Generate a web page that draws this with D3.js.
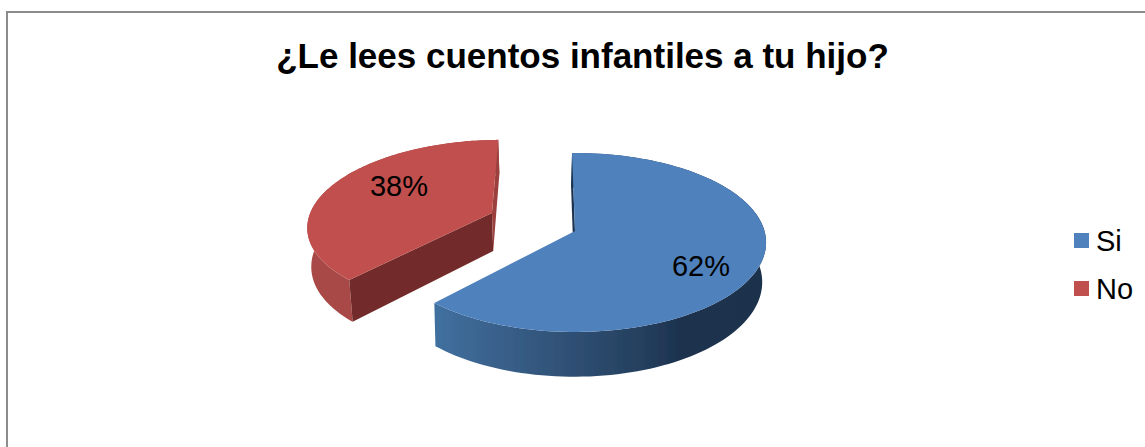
<!DOCTYPE html>
<html>
<head>
<meta charset="utf-8">
<script src="https://cdn.jsdelivr.net/npm/d3@7"></script>
<style>
  body { margin: 0; background: #fff; }
  svg { display: block; }
  text { font-family: "Liberation Sans", Arial, sans-serif; fill: #000; }
</style>
</head>
<body>
<svg id="chart" width="1145" height="447"></svg>
<script>
// chart data
const chartTitle = '¿Le lees cuentos infantiles a tu hijo?';
const categories = ['Si', 'No'];
const percentages = [62, 38];

const width = 1145;
const height = 447;
const svg = d3.select('#chart');

// look of each slice, same order as categories
const topColors = ['#4f81bd', '#c0504d'];
const startFaceColors = ['#1c3350', '#722c2a'];
const endFaceColors = [null, '#9c3f3c'];
const wallStops = [
    [['0%', '#41709f'], ['30%', '#34587f'], ['62%', '#25405f'], ['75%', '#1c314e'], ['100%', '#1c314c']],
    [['0%', '#a84a47'], ['100%', '#a84a47']]
];
// exploded offset and radius of each slice on the pie plane
const explode = [[0, 0], [-0.45, -0.21]];
const sliceRadius = [1, 0.985];
// small sideways shift of the lower rim
const lowerShift = [-1, 0];
const labelPos = [[701, 276], [399, 196]];

// pie plane seen in perspective
const perspective = 0.1285;
const depth = 39;
const lowerScale = 0.985;
const centerX = 575;
const x = d3.scaleLinear().domain([-1, 1]).range([centerX - 189.5, centerX + 189.5]);
const y = d3.scaleLinear().domain([-1, 1]).range([231 - 88, 231 + 88]);

// a point on the pie plane to screen, lower = bottom rim of the extrusion
function project(px, py, lower, shift) {
    const k = 1 / (1 - perspective * py);
    const sx = x(px * k);
    const sy = y(py * k);
    if (!lower) return [sx, sy];
    return [centerX + (sx - centerX) * lowerScale + shift, sy + depth * k];
}

const pie = d3.pie().sort(null).startAngle(-Math.PI / 180).endAngle(2 * Math.PI - Math.PI / 180);
const slices = pie(percentages);
const line = d3.line();

function rim(d, i, lower) {
    const steps = d3.range(0, 121).map(s => d.startAngle + (d.endAngle - d.startAngle) * s / 120);
    return steps.map(a => project(
        Math.sin(a) * sliceRadius[i] + explode[i][0],
        -Math.cos(a) * sliceRadius[i] + explode[i][1],
        lower, lowerShift[i]));
}

// gradients for the outer walls
const defs = svg.append('defs');
wallStops.forEach((stops, i) => {
    const bounds = d3.extent(rim(slices[i], i, false), p => p[0]);
    const grad = defs.append('linearGradient')
        .attr('id', 'wall' + i)
        .attr('gradientUnits', 'userSpaceOnUse')
        .attr('x1', bounds[0]).attr('x2', bounds[1])
        .attr('y1', 0).attr('y2', 0);
    stops.forEach(s => grad.append('stop').attr('offset', s[0]).attr('stop-color', s[1]));
});
defs.append('filter').attr('id', 'soft')
    .attr('x', '-5%').attr('y', '-5%').attr('width', '110%').attr('height', '110%')
    .append('feGaussianBlur').attr('stdDeviation', 0.5);

// frame, only top and left are inside the picture
svg.append('path')
    .attr('d', line([[width, 12], [7, 12], [7, height]]))
    .attr('fill', 'none')
    .attr('stroke', '#8c8c8c')
    .attr('stroke-width', 2);

svg.append('text')
    .attr('x', 582.5)
    .attr('y', 68)
    .attr('text-anchor', 'middle')
    .attr('font-size', 35)
    .attr('font-weight', 'bold')
    .text(chartTitle);

// far slice first so the nearer one sits on top
const pieG = svg.append('g').attr('filter', 'url(#soft)');
[1, 0].forEach(i => {
    const d = slices[i];
    const upper = rim(d, i, false);
    const lower = rim(d, i, true);
    const hub = project(explode[i][0], explode[i][1], false, 0);
    const hubLower = project(explode[i][0], explode[i][1], true, lowerShift[i]);

    pieG.append('path')
        .attr('d', line(upper.concat(lower.slice().reverse())) + 'Z')
        .attr('fill', `url(#wall${i})`);

    pieG.append('path')
        .attr('d', line([upper[0], hub, hubLower, lower[0]]) + 'Z')
        .attr('fill', startFaceColors[i]);

    if (endFaceColors[i]) {
        pieG.append('path')
            .attr('d', line([upper[upper.length - 1], hub, hubLower, lower[lower.length - 1]]) + 'Z')
            .attr('fill', endFaceColors[i]);
    }

    pieG.append('path')
        .attr('d', line([hub].concat(upper)) + 'Z')
        .attr('fill', topColors[i]);
});

percentages.forEach((v, i) => {
    svg.append('text')
        .attr('x', labelPos[i][0])
        .attr('y', labelPos[i][1])
        .attr('text-anchor', 'middle')
        .attr('font-size', 29)
        .text(v + '%');
});

// legend
const legendY = d3.scalePoint().domain(categories).range([240.5, 288.5]);
const legend = svg.selectAll('.legend')
    .data(categories)
    .enter()
    .append('g')
    .attr('class', 'legend')
    .attr('transform', d => `translate(1074, ${legendY(d)})`);

legend.append('rect')
    .attr('y', -7.5)
    .attr('width', 15)
    .attr('height', 15)
    .attr('fill', (d, i) => topColors[i]);

legend.append('text')
    .attr('x', 22)
    .attr('y', 10)
    .attr('font-size', 29)
    .text(d => d);
</script>
</body>
</html>
